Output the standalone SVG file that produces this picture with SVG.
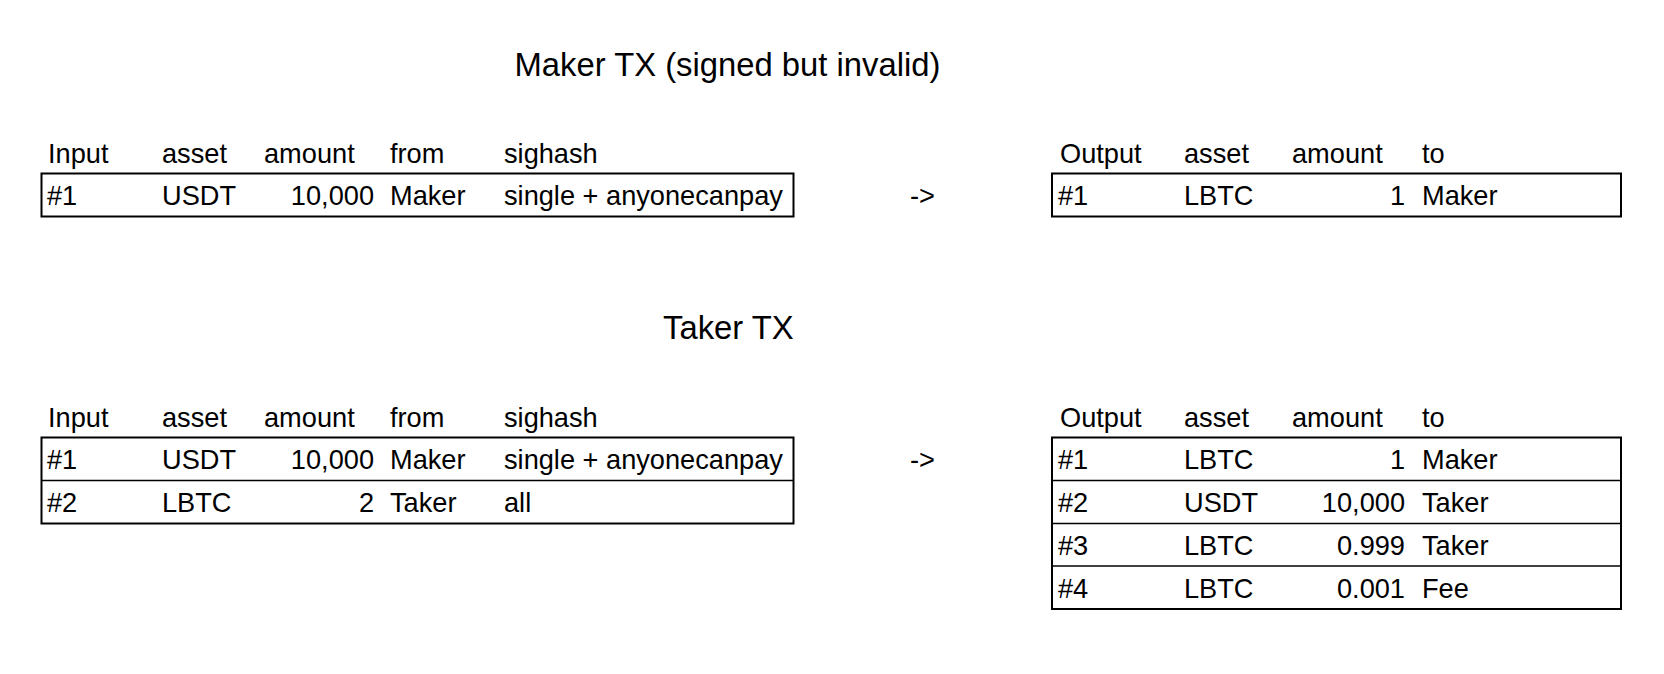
<svg xmlns="http://www.w3.org/2000/svg" width="1664" height="674" viewBox="0 0 1664 674">
<style>
text{font-family:"Liberation Sans",Arial,sans-serif;fill:#000}
.t{font-size:27.2px}
.h{font-size:32.8px}
.r{text-anchor:end}
.box{fill:#fff;stroke:#000;stroke-width:2}
.div{stroke:#000;stroke-width:1.5}
</style>
<rect width="1664" height="674" fill="#fff"/>
<g id="maker-title"><text class="h" x="514.5" y="75.5">Maker TX (signed but invalid)</text></g>
<g id="maker-inputs">
<text class="t" x="48" y="163">Input</text><text class="t" x="162" y="163">asset</text><text class="t" x="264" y="163">amount</text><text class="t" x="390" y="163">from</text><text class="t" x="504" y="163">sighash</text>
<rect class="box" x="41.5" y="173.5" width="752" height="43"/>
<text class="t" x="47" y="205">#1</text><text class="t" x="162" y="205">USDT</text><text class="t r" x="374" y="205">10,000</text><text class="t" x="390" y="205">Maker</text><text class="t" x="504" y="205">single + anyonecanpay</text>
</g>
<g id="maker-arrow"><text class="t" x="910" y="205">-&gt;</text></g>
<g id="maker-outputs">
<text class="t" x="1060" y="163">Output</text><text class="t" x="1184" y="163">asset</text><text class="t" x="1292" y="163">amount</text><text class="t" x="1422" y="163">to</text>
<rect class="box" x="1052" y="173.5" width="569" height="43"/>
<text class="t" x="1058" y="205">#1</text><text class="t" x="1184" y="205">LBTC</text><text class="t r" x="1405" y="205">1</text><text class="t" x="1422" y="205">Maker</text>
</g>
<g id="taker-title"><text class="h" x="663" y="338.5">Taker TX</text></g>
<g id="taker-inputs">
<text class="t" x="48" y="427">Input</text><text class="t" x="162" y="427">asset</text><text class="t" x="264" y="427">amount</text><text class="t" x="390" y="427">from</text><text class="t" x="504" y="427">sighash</text>
<rect class="box" x="41.5" y="437.5" width="752" height="86"/>
<line class="div" x1="41.5" y1="480.5" x2="793.5" y2="480.5"/>
<text class="t" x="47" y="469">#1</text><text class="t" x="162" y="469">USDT</text><text class="t r" x="374" y="469">10,000</text><text class="t" x="390" y="469">Maker</text><text class="t" x="504" y="469">single + anyonecanpay</text>
<text class="t" x="47" y="512">#2</text><text class="t" x="162" y="512">LBTC</text><text class="t r" x="374" y="512">2</text><text class="t" x="390" y="512">Taker</text><text class="t" x="504" y="512">all</text>
</g>
<g id="taker-arrow"><text class="t" x="910" y="469">-&gt;</text></g>
<g id="taker-outputs">
<text class="t" x="1060" y="427">Output</text><text class="t" x="1184" y="427">asset</text><text class="t" x="1292" y="427">amount</text><text class="t" x="1422" y="427">to</text>
<rect class="box" x="1052" y="437.5" width="569" height="171.5"/>
<line class="div" x1="1052" y1="480.5" x2="1621" y2="480.5"/>
<line class="div" x1="1052" y1="523.5" x2="1621" y2="523.5"/>
<line class="div" x1="1052" y1="566" x2="1621" y2="566"/>
<text class="t" x="1058" y="469">#1</text><text class="t" x="1184" y="469">LBTC</text><text class="t r" x="1405" y="469">1</text><text class="t" x="1422" y="469">Maker</text>
<text class="t" x="1058" y="512">#2</text><text class="t" x="1184" y="512">USDT</text><text class="t r" x="1405" y="512">10,000</text><text class="t" x="1422" y="512">Taker</text>
<text class="t" x="1058" y="555">#3</text><text class="t" x="1184" y="555">LBTC</text><text class="t r" x="1405" y="555">0.999</text><text class="t" x="1422" y="555">Taker</text>
<text class="t" x="1058" y="597.5">#4</text><text class="t" x="1184" y="597.5">LBTC</text><text class="t r" x="1405" y="597.5">0.001</text><text class="t" x="1422" y="597.5">Fee</text>
</g>
<g id="connectors"></g>
</svg>
